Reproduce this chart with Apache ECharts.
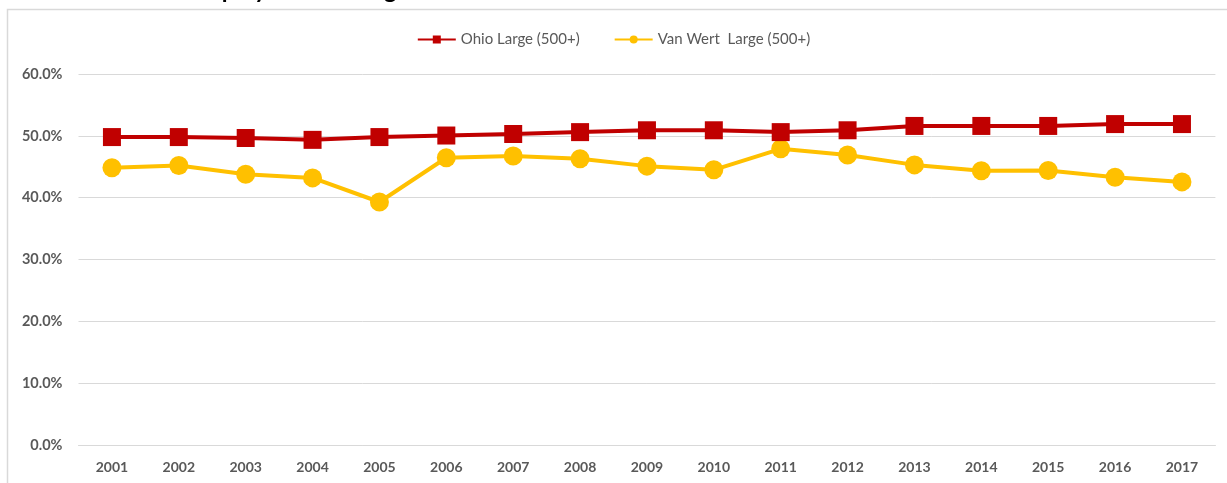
<!DOCTYPE html>
<html>
<head>
<meta charset="utf-8">
<script src="https://cdn.jsdelivr.net/npm/echarts@6/dist/echarts.min.js"></script>
<style>
html,body{margin:0;padding:0;background:#fff;}
#chart{width:1227px;height:483px;}
</style>
</head>
<body>
<div id="chart"></div>
<script>
var titleText = "Share of Employment in Large Establishments";
var years = ["2001","2002","2003","2004","2005","2006","2007","2008","2009","2010","2011","2012","2013","2014","2015","2016","2017"];
var ohioName = "Ohio Large (500+)";
var ohioValues = [49.8, 49.8, 49.65, 49.35, 49.8, 50.05, 50.3, 50.6, 50.9, 50.9, 50.6, 50.9, 51.6, 51.6, 51.6, 51.9, 51.9];
var vwName = "Van Wert  Large (500+)";
var vwValues = [44.85, 45.2, 43.8, 43.2, 39.3, 46.45, 46.75, 46.3, 45.1, 44.5, 47.9, 46.9, 45.3, 44.35, 44.4, 43.3, 42.55];
var yTicks = {min: 0, max: 60, interval: 10};

var font = "Lato, 'Open Sans', 'Liberation Sans', sans-serif";
var chart = echarts.init(document.getElementById('chart'), null, {renderer: 'canvas'});
chart.setOption({
  animation: false,
  backgroundColor: '#ffffff',
  graphic: [{
    type: 'rect',
    silent: true,
    z: -1,
    shape: {x: 7.5, y: 9.5, width: 1260, height: 520},
    style: {fill: '#ffffff', stroke: '#d9d9d9', lineWidth: 1.5}
  }, {
    type: 'text',
    silent: true,
    x: 97,
    y: -10,
    style: {
      text: titleText,
      fontFamily: font, fontWeight: 'bold', fontSize: 23.5,
      fill: '#000000',
      textAlign: 'left',
      textVerticalAlign: 'middle',
      verticalAlign: 'middle'
    }
  }],
  legend: {
    top: 27,
    left: 'center',
    itemGap: 34,
    itemWidth: 38,
    itemHeight: 10,
    textStyle: {fontFamily: font, fontSize: 15, color: '#595959'},
    data: [ohioName, vwName]
  },
  grid: {left: 78.5, right: 11.6, top: 74, bottom: 38, containLabel: false},
  xAxis: {
    type: 'category',
    data: years,
    boundaryGap: true,
    axisLine: {show: true, lineStyle: {color: '#d9d9d9', width: 1}},
    axisTick: {show: false},
    axisLabel: {margin: 15, fontFamily: font, fontWeight: 'bold', fontSize: 14, color: '#595959'}
  },
  yAxis: {
    type: 'value',
    min: yTicks.min,
    max: yTicks.max,
    interval: yTicks.interval,
    axisLine: {show: false},
    axisTick: {show: false},
    splitLine: {lineStyle: {color: '#d9d9d9', width: 1}},
    axisLabel: {
      margin: 16,
      fontFamily: font, fontWeight: 'bold', fontSize: 14.5, color: '#595959',
      formatter: function (v) { return v.toFixed(1) + '%'; }
    }
  },
  series: [
    {
      name: ohioName,
      type: 'line',
      data: ohioValues,
      symbol: 'rect',
      symbolSize: 18,
      lineStyle: {color: '#C00000', width: 4},
      itemStyle: {color: '#C00000'},
      z: 3
    },
    {
      name: vwName,
      type: 'line',
      data: vwValues,
      symbol: 'circle',
      symbolSize: 19,
      lineStyle: {color: '#FFC000', width: 4},
      itemStyle: {color: '#FFC000'},
      z: 2
    }
  ]
});
</script>
</body>
</html>
